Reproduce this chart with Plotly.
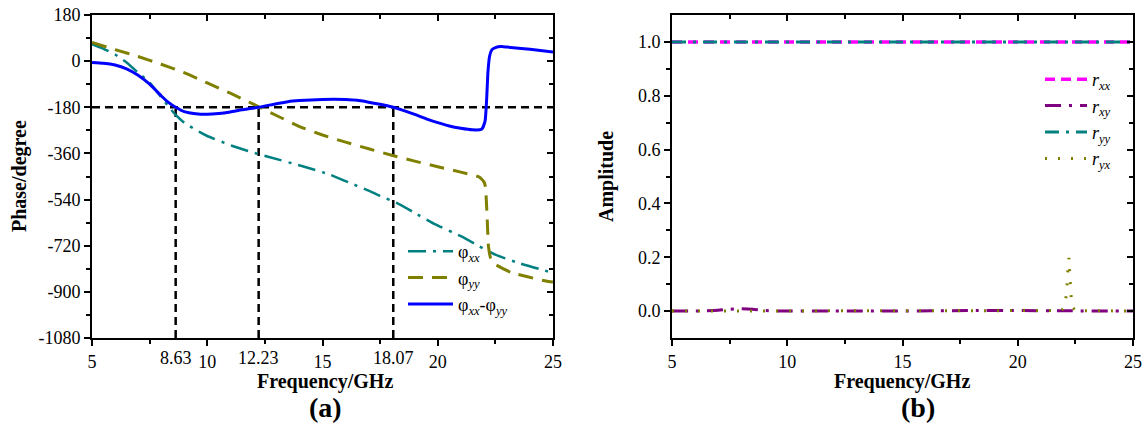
import plotly.graph_objects as go

# ---------------- data: panel (a) phase ----------------
phi_xx_f = [5, 5.5, 6, 6.5, 7, 7.5, 8, 8.3, 8.63, 9, 9.7, 10, 11.1, 12.23, 12.6, 14.1, 15.3, 16, 17,
            17.5, 18.2, 19, 19.9, 21, 21.8, 22.5, 23.5, 25]
phi_xx = [66, 48, 26, -5, -45, -83, -140, -175, -210, -240, -278, -292, -331, -363, -372, -409, -442,
          -468, -505, -526, -552, -592, -637, -683, -722, -755, -787, -826]

phi_yy_f = [5, 6, 7, 8, 9, 10, 11, 12, 13, 14, 15, 16, 17, 18, 19, 20, 21, 21.8, 22.0, 22.07, 22.14,
            22.2, 22.3, 22.5, 23.2, 24.7, 25]
phi_yy = [73, 45, 18, -12, -45, -85, -125, -168, -212, -255, -288, -316, -342, -367, -390, -412, -433,
          -452, -470, -490, -605, -722, -770, -793, -825, -858, -862]

diff_f = [5, 5.5, 6, 6.5, 7, 7.5, 8, 8.3, 8.63, 9, 9.5, 10, 10.5, 11, 11.5, 12.23, 13, 13.5, 14, 15,
          15.5, 16, 16.5, 17, 17.5, 18.07, 18.5, 19, 19.5, 20, 20.5, 21, 21.5, 21.9, 22.05, 22.12,
          22.18, 22.25, 22.35, 22.5, 22.75, 23, 24, 25]
diff = [-5, -8, -15, -30, -55, -90, -135, -160, -180, -197, -205, -207, -204, -198, -190, -180, -166,
        -158, -154, -150, -149, -150, -153, -160, -168, -180, -192, -208, -225, -240, -253, -262, -268,
        -266, -235, -150, -40, 20, 45, 53, 57, 55, 46, 36]

cross_f = [8.63, 12.23, 18.07]
ref_phase = -180
phase_range = [-1080, 180]
phase_ticks = [-1080, -900, -720, -540, -360, -180, 0, 180]
phase_ticktext = ['-1080', '-900', '-720', '-540', '-360', '-180', '0', '180']
phase_minor = [-990, -810, -630, -450, -270, -90, 90]
freq_range = [5, 25]
freq_ticks = [5, 10, 15, 20, 25]
freq_minor = [7.5, 12.5, 17.5, 22.5]

# ---------------- data: panel (b) amplitude ----------------
rxx_f = [5, 10, 15, 20, 25]
r_xx = [1.0, 1.0, 1.0, 1.0, 1.0]
ryy_f = [5, 10, 15, 20, 25]
r_yy = [1.0, 1.0, 1.0, 1.0, 1.0]
rxy_f = [5, 6, 7, 7.5, 8, 8.5, 9, 10, 12, 15, 18, 20, 22, 25]
r_xy = [0, 0, 0.003, 0.007, 0.009, 0.007, 0.002, 0, 0, 0, 0.002, 0.002, 0.001, 0]
ryx_f = [5, 8, 12, 16, 20, 21.9, 22.05, 22.12, 22.18, 22.22, 22.27, 22.32, 22.4, 22.5, 25]
r_yx = [0, 0, 0, 0, 0, 0.002, 0.02, 0.07, 0.16, 0.198, 0.12, 0.05, 0.012, 0.002, 0]
amp_range = [-0.1, 1.1]
amp_ticks = [0.0, 0.2, 0.4, 0.6, 0.8, 1.0]
amp_ticktext = ['0.0', '0.2', '0.4', '0.6', '0.8', '1.0']
amp_minor = [0.1, 0.3, 0.5, 0.7, 0.9]

# ---------------- figure ----------------
W, H = 1146, 433
FONT = 'Liberation Serif, Times New Roman, serif'


def px(x):
    return x / W


def py(y):
    return 1 - y / H


fig = go.Figure()

# invisible carrier traces so the mirrored (inside-tick) overlay axes are drawn
fig.add_trace(go.Scatter(x=freq_range, y=phase_range, mode='none', showlegend=False, hoverinfo='skip',
                         xaxis='x3', yaxis='y'))
fig.add_trace(go.Scatter(x=freq_range, y=phase_range, mode='none', showlegend=False, hoverinfo='skip',
                         xaxis='x', yaxis='y3'))
fig.add_trace(go.Scatter(x=freq_range, y=amp_range, mode='none', showlegend=False, hoverinfo='skip',
                         xaxis='x4', yaxis='y2'))
fig.add_trace(go.Scatter(x=freq_range, y=amp_range, mode='none', showlegend=False, hoverinfo='skip',
                         xaxis='x2', yaxis='y4'))

# reference dashed guide lines (a)
fig.add_trace(go.Scatter(x=freq_range, y=[ref_phase, ref_phase], mode='lines', showlegend=False,
                         line=dict(color='black', width=2.5, dash='8px,5px'), xaxis='x', yaxis='y'))
for cf in cross_f:
    fig.add_trace(go.Scatter(x=[cf, cf], y=[phase_range[0], ref_phase], mode='lines', showlegend=False,
                             line=dict(color='black', width=2.5, dash='8px,5px'), xaxis='x', yaxis='y'))

fig.add_trace(go.Scatter(x=phi_xx_f, y=phi_xx, mode='lines', name='φ<sub><i>xx</i></sub>',
                         line=dict(color='#008080', width=2.5, dash='18px,7px,3px,7px', shape='spline', smoothing=0.5),
                         xaxis='x', yaxis='y', legend='legend', legendgroup='a1'))
fig.add_trace(go.Scatter(x=phi_yy_f, y=phi_yy, mode='lines', name='φ<sub><i>yy</i></sub>',
                         line=dict(color='#808000', width=3, dash='15px,9px', shape='spline', smoothing=0.4),
                         xaxis='x', yaxis='y', legend='legend', legendgroup='a2'))
fig.add_trace(go.Scatter(x=diff_f, y=diff, mode='lines', name='φ<sub><i>xx</i></sub>-φ<sub><i>yy</i></sub>',
                         line=dict(color='#0000FF', width=3, shape='spline', smoothing=0.5),
                         xaxis='x', yaxis='y', legend='legend', legendgroup='a3'))

# panel (b)
fig.add_trace(go.Scatter(x=rxx_f, y=r_xx, mode='lines', name='<i>r</i><sub><i>xx</i></sub>',
                         line=dict(color='#FF00FF', width=3.5, dash='10px,6px'),
                         xaxis='x2', yaxis='y2', legend='legend2', legendgroup='b1'))
fig.add_trace(go.Scatter(x=rxy_f, y=r_xy, mode='lines', name='<i>r</i><sub><i>xy</i></sub>',
                         line=dict(color='#800080', width=3, dash='16px,8px,3px,8px', shape='spline', smoothing=0.5),
                         xaxis='x2', yaxis='y2', legend='legend2', legendgroup='b2'))
fig.add_trace(go.Scatter(x=ryy_f, y=r_yy, mode='lines', name='<i>r</i><sub><i>yy</i></sub>',
                         line=dict(color='#008080', width=3, dash='14px,7px,3px,7px'),
                         xaxis='x2', yaxis='y2', legend='legend2', legendgroup='b3'))
fig.add_trace(go.Scatter(x=ryx_f, y=r_yx, mode='lines', name='<i>r</i><sub><i>yx</i></sub>',
                         line=dict(color='#808000', width=3, dash='2px,11px'),
                         xaxis='x2', yaxis='y2', legend='legend2', legendgroup='b4'))

ydom = [py(338), py(15)]
xdom1 = [px(92), px(553)]
xdom2 = [px(672), px(1133)]

tickfont = dict(family=FONT, size=18, color='black')


def minor(ticks, vals):
    return dict(tickmode='array', tickvals=vals, ticks=ticks, ticklen=4, tickwidth=2, tickcolor='black')


def base_axis(**kw):
    d = dict(showline=True, linecolor='black', linewidth=2, mirror=True, ticks='outside', ticklen=6,
             tickwidth=2, tickcolor='black', showgrid=False, zeroline=False, tickfont=tickfont,
             tickmode='array')
    d.update(kw)
    return d


def overlay_axis(**kw):
    d = dict(showline=False, ticks='inside', ticklen=6, tickwidth=2, tickcolor='black', showgrid=False,
             zeroline=False, showticklabels=False, tickmode='array')
    d.update(kw)
    return d


fig.update_layout(
    width=W, height=H, margin=dict(l=0, r=0, t=0, b=0, autoexpand=False),
    plot_bgcolor='white', paper_bgcolor='white',
    font=dict(family=FONT, size=18, color='black'),
    xaxis=base_axis(domain=xdom1, range=freq_range, anchor='y', tickvals=freq_ticks,
                    minor=minor('outside', freq_minor)),
    yaxis=base_axis(domain=ydom, range=phase_range, anchor='x', tickvals=phase_ticks, ticktext=phase_ticktext,
                    minor=minor('outside', phase_minor)),
    xaxis3=overlay_axis(overlaying='x', anchor='y', side='top', range=freq_range, tickvals=freq_ticks,
                        minor=minor('inside', freq_minor)),
    yaxis3=overlay_axis(overlaying='y', anchor='x', side='right', range=phase_range, tickvals=phase_ticks,
                        minor=minor('inside', phase_minor)),
    xaxis2=base_axis(domain=xdom2, range=freq_range, anchor='y2', tickvals=freq_ticks,
                     minor=minor('outside', freq_minor)),
    yaxis2=base_axis(domain=ydom, range=amp_range, anchor='x2', tickvals=amp_ticks, ticktext=amp_ticktext,
                     minor=minor('outside', amp_minor)),
    xaxis4=overlay_axis(overlaying='x2', anchor='y2', side='top', range=freq_range, tickvals=freq_ticks,
                        minor=minor('inside', freq_minor)),
    yaxis4=overlay_axis(overlaying='y2', anchor='x2', side='right', range=amp_range, tickvals=amp_ticks,
                        minor=minor('inside', amp_minor)),
    legend=dict(x=px(403), y=py(233), xanchor='left', yanchor='top', bgcolor='rgba(0,0,0,0)',
                font=dict(family=FONT, size=18, color='black'), itemwidth=45, tracegroupgap=10,
                traceorder='normal'),
    legend2=dict(x=px(1040), y=py(61), xanchor='left', yanchor='top', bgcolor='rgba(0,0,0,0)',
                 font=dict(family=FONT, size=18, color='black'), itemwidth=42, tracegroupgap=7,
                 traceorder='normal'),
)

annotations = []
# extra frequency labels at the crossing points (no tick marks in the reference)
for cf in cross_f:
    annotations.append(dict(x=cf, xref='x', y=py(358), yref='paper', text=f'{cf:.2f}', showarrow=False,
                            xanchor='center', yanchor='middle', font=dict(family=FONT, size=18, color='black')))

bold = dict(family=FONT, size=20, color='black')
annotations += [
    dict(x=px(19), y=py(176), xref='paper', yref='paper', text='<b>Phase/degree</b>', textangle=-90,
         showarrow=False, font=bold, xanchor='center', yanchor='middle'),
    dict(x=px(606), y=py(176), xref='paper', yref='paper', text='<b>Amplitude</b>', textangle=-90,
         showarrow=False, font=bold, xanchor='center', yanchor='middle'),
    dict(x=px(325), y=py(381), xref='paper', yref='paper', text='<b>Frequency/GHz</b>', showarrow=False,
         font=bold, xanchor='center', yanchor='middle'),
    dict(x=px(902), y=py(381), xref='paper', yref='paper', text='<b>Frequency/GHz</b>', showarrow=False,
         font=bold, xanchor='center', yanchor='middle'),
    dict(x=px(325), y=py(407), xref='paper', yref='paper', text='<b>(a)</b>', showarrow=False,
         font=dict(family=FONT, size=28, color='black'), xanchor='center', yanchor='middle'),
    dict(x=px(918), y=py(407), xref='paper', yref='paper', text='<b>(b)</b>', showarrow=False,
         font=dict(family=FONT, size=28, color='black'), xanchor='center', yanchor='middle'),
]
fig.update_layout(annotations=annotations)

fig.write_html('out.html')
